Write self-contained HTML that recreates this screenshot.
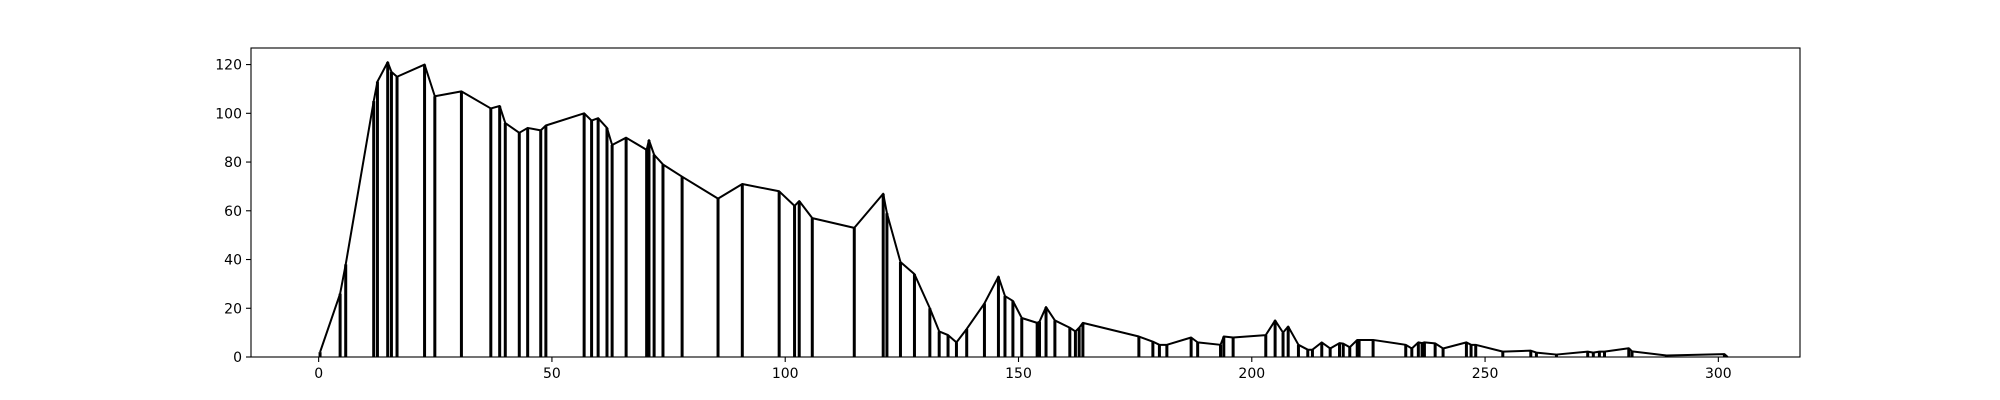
<!DOCTYPE html>
<html><head><meta charset="utf-8"><style>
body{margin:0;background:#fff}
svg{display:block}
text{font-family:"DejaVu Sans","Liberation Sans",sans-serif;font-size:14px;fill:#000}
</style></head><body>
<svg id="chart" width="2000" height="400" viewBox="0 0 2000 400" xmlns="http://www.w3.org/2000/svg">
<rect width="2000" height="400" fill="#fff"/>
<g id="marks"></g>
<g id="axes"></g>
</svg>
<script>
const xValues=[0.3,4.6,5.8,11.8,12.6,14.8,15.6,16.8,22.7,24.9,30.6,36.9,38.8,40,43,44.8,47.6,48.7,56.9,58.5,59.9,61.8,62.9,65.9,70.3,70.8,71.9,73.8,77.9,85.6,90.8,98.7,102,103,105.8,114.8,121,121.8,124.7,127.7,131,133,134.9,136.7,138.9,142.7,145.7,147.1,148.8,150.7,154,154.5,155.9,157.8,161,162.2,163,163.8,175.8,178.8,180.2,181.8,187,188.4,193.3,194,196,203,205,206.7,207.8,210,212,213,215,216.8,218.8,219.6,221,222.6,223,226,233,234.3,235.7,236.5,237,239.3,241,246,247,248,253.8,259.8,261,265.3,272,273.2,274.5,275.6,280.8,281.5,288.9,301.3,302];
const yValues=[2,26,38,105,113,121,117,115,120,107,109,102,103,96,92,94,93,95,100,97,98,94,87,90,85,89,83,79,74,65,71,68,62,64,57,53,67,59,39,34,20,10.5,9,6,11.5,22,33,25,23,16,14,14.5,20.5,15,12,10.5,12,14,8.4,6.3,5,5,8,6,5,8.4,8,9,15,10,12.5,5,3,3,6,3.5,5.7,5.5,4,7,7,7,5,3.5,6,5.7,6,5.6,3.5,6,5,5,2.2,2.6,1.8,1,2.2,1.8,2.2,2.2,3.6,2.3,0.6,1.2,0];
const xTicks=[0,50,100,150,200,250,300];
const yTicks=[0,20,40,60,80,100,120];
const X0=251,X1=1800,Y0=48,Y1=357;
const xMin=-14.5,xMax=317.5,yMin=0,yMax=126.8;
const sx=v=>X0+(v-xMin)/(xMax-xMin)*(X1-X0);
const sy=v=>Y1-(v-yMin)/(yMax-yMin)*(Y1-Y0);
const NS='http://www.w3.org/2000/svg';
const marks=document.getElementById('marks'),axes=document.getElementById('axes');
function mk(tag,attrs,parent){const e=document.createElementNS(NS,tag);for(const k in attrs)e.setAttribute(k,attrs[k]);parent.appendChild(e);return e;}
xValues.forEach((x,i)=>{
  const s=mk('line',{x1:sx(x),x2:sx(x),y1:sy(0),y2:sy(yValues[i]),stroke:'#000','stroke-width':3},marks);
  
  
});
const pl=mk('polyline',{points:xValues.map((x,i)=>sx(x)+','+sy(yValues[i])).join(' '),fill:'none',stroke:'#000','stroke-width':2,'stroke-linejoin':'round'},marks);


const fr=mk('rect',{x:X0,y:Y0,width:X1-X0,height:Y1-Y0,fill:'none',stroke:'#000','stroke-width':1.1},axes);


xTicks.forEach(t=>{
  const x=sx(t);
  mk('line',{x1:x,x2:x,y1:Y1,y2:Y1+5,stroke:'#000','stroke-width':1.1},axes);
  const tx=mk('text',{x:x,y:Y1+21,'text-anchor':'middle'},axes);
  tx.textContent=t;
  
  
});
yTicks.forEach(t=>{
  const y=sy(t);
  mk('line',{x1:X0-5,x2:X0,y1:y,y2:y,stroke:'#000','stroke-width':1.1},axes);
  const tx=mk('text',{x:X0-9,y:y+5,'text-anchor':'end'},axes);
  tx.textContent=t;
  
  
});
</script>
</body></html>
